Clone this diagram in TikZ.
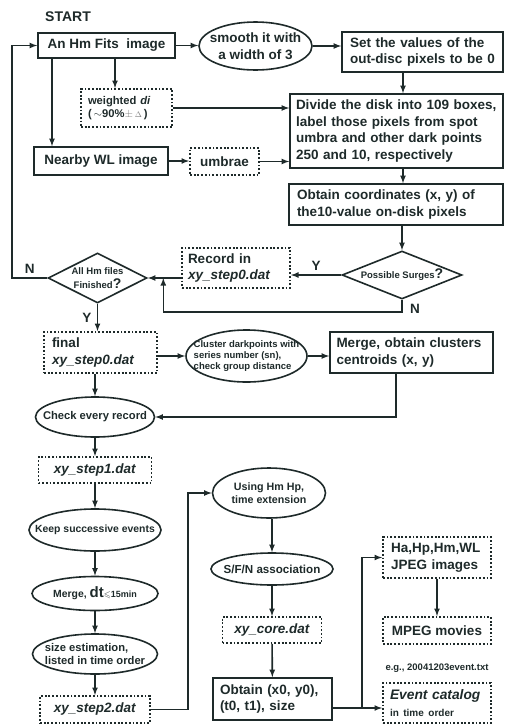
\documentclass[tikz,border=0pt]{standalone}
\usepackage{fontspec}
\usepackage{amssymb}
\setmainfont{Liberation Sans}
\usetikzlibrary{shapes.geometric, arrows, positioning}
\definecolor{ink}{RGB}{30,42,42}
\newcommand\fmain{\fontsize{13.5}{16.7}\selectfont\bfseries}
\newcommand\fmid{\fontsize{11.2}{13}\selectfont\bfseries}
\newcommand\ftiny{\fontsize{9.5}{11}\selectfont\bfseries}
\newcommand\qmark{{\fontsize{14}{14}\selectfont ?}}
\tikzstyle{arrow} = [line width=1.6pt,->,>=latex,draw=ink]
\tikzstyle{process} = [rectangle, draw=ink, line width=1.6pt, inner sep=0pt, font=\fmain]
\tikzstyle{datafile} = [rectangle, draw=ink, line width=1.8pt, dash pattern=on 1.8pt off 1.9pt, inner sep=0pt, font=\fmain]
\tikzstyle{oval} = [ellipse, draw=ink, line width=1.6pt, inner xsep=-30pt, inner ysep=-12pt, align=center, font=\fmid]
\tikzstyle{decision} = [diamond, draw=ink, line width=1.6pt, inner sep=-12pt, aspect=2.4, align=center, font=\ftiny]
\tikzset{
	leftbox/.style 2 args = {align=left, text width=#1, inner xsep=#2},
	yn/.style = {font=\fmain, text=ink},
}

\begin{document}
\begin{tikzpicture}[x=1pt, y=-1pt, text=ink]
\useasboundingbox (0,0) rectangle (507,726);
% Placement of nodes
\node (start) at (68,17) [font=\fontsize{14}{14}\selectfont\bfseries] {START};
\node (hm) at (106.5,45.5) [process, minimum width=137pt, minimum height=25pt] {An Hm Fits\ \ image};
\node (smooth) at (255.5,46) [oval, font=\fmain, minimum width=113pt, minimum height=48pt] {smooth it with\\a width of 3};
\node (setzero) at (422.5,52) [process, leftbox={145pt}{8pt}, minimum height=40pt] {Set the values of the\\out-disc pixels to be 0};
\node (weighted) at (126.5,108) [datafile, font=\fmid, leftbox={77pt}{7pt}, minimum height=38pt] {weighted \textit{di}\\(\,$\sim$90\%{\color{gray}$\pm\,\scriptstyle\Delta$}\,)};
\node (divide) at (396.5,131) [process, leftbox={201pt}{6pt}, minimum height=74pt] {Divide the disk into 109 boxes,\\label those pixels from spot\\umbra and other dark points\\250 and 10, respectively};
\node (nearby) at (101,161) [process, minimum width=134pt, minimum height=28pt] {Nearby WL image};
\node (umbrae) at (224.5,161.5) [datafile, minimum width=69pt, minimum height=27pt] {umbrae};
\node (obtainxy) at (396,204.5) [process, leftbox={198pt}{8pt}, minimum height=41pt] {Obtain coordinates (x, y) of\\the10-value on-disk pixels};

% decisions
\node (surge) at (402,275) [decision, minimum width=120pt, minimum height=48pt] {Possible Surges\qmark};
\node (record) at (236,268) [datafile, leftbox={96pt}{6pt}, minimum height=40pt] {Record in\\\textit{xy\_step0.dat}};
\node (allhm) at (97.5,278) [decision, minimum width=99pt, minimum height=50pt, font=\fontsize{9.5}{14}\selectfont\bfseries] {All Hm files\\Finished\qmark};
\coordinate (njoin) at ([xshift=15.5pt]allhm.east);

% clustering
\node (final) at (100.5,352.5) [datafile, leftbox={97pt}{8pt}, minimum height=41pt] {final\\\textit{xy\_step0.dat}};
\node (cluster) at (246.5,356) [oval, font=\ftiny, align=left, minimum width=121pt, minimum height=52pt] {Cluster darkpoints with\\series number (sn),\\check group distance};
\node (mergec) at (411.5,352.5) [process, leftbox={150pt}{6.5pt}, minimum height=41pt] {Merge, obtain clusters\\centroids (x, y)};

% left column
\node (check) at (95,417) [oval, minimum width=119pt, minimum height=40pt] {Check every record};
\node (step1) at (95,470) [datafile, minimum width=113pt, minimum height=26pt] {\textit{xy\_step1.dat}};
\node (keep) at (95,530) [oval, font=\fontsize{10.4}{12}\selectfont\bfseries, minimum width=132pt, minimum height=42pt] {Keep successive events};
\node (mergedt) at (95,593.5) [oval, font=\fontsize{10.4}{12}\selectfont\bfseries, minimum width=126pt, minimum height=34pt] {Merge, {\fontsize{15}{15}\selectfont dt}{\fontsize{9}{9}\selectfont$\leqslant$15min}};
\node (sizeest) at (95,654) [oval, font=\fmid, align=left, minimum width=125pt, minimum height=40pt] {size estimation,\\listed in time order};
\node (step2) at (95,709.5) [datafile, minimum width=110pt, minimum height=27pt] {\textit{xy\_step2.dat}};

% middle column
\node (using) at (269,493) [oval, font=\fontsize{10.7}{13}\selectfont\bfseries, minimum width=113pt, minimum height=50pt] {Using Hm Hp,\\time extension};
\node (sfn) at (272,569) [oval, font=\fontsize{11.6}{13}\selectfont\bfseries, minimum width=122pt, minimum height=32pt] {S/F/N association};
\node (core) at (272,630) [datafile, minimum width=99pt, minimum height=26pt] {\textit{xy\_core.dat}};
\node (obtainx0) at (272.5,699) [process, leftbox={105pt}{7pt}, minimum height=42pt] {Obtain (x0, y0),\\(t0, t1), size};

% right column
\node (hajpeg) at (437,557.5) [datafile, leftbox={92pt}{8pt}, minimum height=41pt] {Ha,Hp,Hm,WL\\JPEG images};
\node (mpeg) at (437,630.5) [datafile, minimum width=108pt, minimum height=27pt] {MPEG movies};
\node (catalog) at (437,703) [datafile, leftbox={94pt}{7pt}, minimum height=40pt] {{\fontsize{13.8}{16}\selectfont\itshape Event catalog}\\{\fontsize{10}{12}\selectfont in time order}};
\node (eg) [above=6pt of catalog, font=\fontsize{9.5}{11}\selectfont\bfseries] {e.g., 20041203event.txt};
\coordinate (fork) at (362,708);

% Placement of edges
\draw [arrow] (hm.east) -- (hm.east -| smooth.west);
\draw [arrow] (smooth.east) -- (smooth.east -| setzero.west);
\draw [arrow] ([xshift=-19.5pt]setzero.south) -- ([xshift=-19.5pt]setzero.south |- divide.north);
\draw [arrow] ([xshift=8.5pt]hm.south) -- ([xshift=8.5pt]hm.south |- weighted.north);
\draw [arrow] ([xshift=-54.5pt]hm.south) -- ([xshift=-54.5pt]hm.south |- nearby.north);
\draw [arrow] (weighted.east) -- (weighted.east -| divide.west);
\draw [arrow] (nearby.east) -- (nearby.east -| umbrae.west);
\draw [arrow] (umbrae.east) -- (umbrae.east -| divide.west);
\draw [arrow] ([xshift=6.5pt]divide.south) -- ([xshift=6.5pt]divide.south |- obtainxy.north);
\draw [arrow] (surge.north |- obtainxy.south) -- (surge.north);

% surges yes / no
\draw [arrow] (surge.west) -- node[yn, above] {Y} (surge.west -| record.east);
\draw [arrow] (allhm.east -| record.west) -- (allhm.east);
\draw [arrow] (surge.south) -- ++(0,12) node[yn, anchor=west, xshift=4pt, yshift=3pt] {N} -| (njoin);

% all files finished?
\draw [arrow] (allhm.west) -- node[yn, above] {N} ++(-35,0) |- (hm.west);
\draw [arrow] (allhm.south) -- node[yn, left, xshift=-2pt] {Y} (allhm.south |- final.north);

\draw [arrow] (cluster.west -| final.east) -- (cluster.west);
\draw [arrow] (cluster.east) -- (cluster.east -| mergec.west);
\draw [arrow] ([xshift=-15.5pt]mergec.south) |- (check.east);
\draw [arrow] (check.north |- final.south) -- (check.north);

\draw [arrow] (check) -- (step1);
\draw [arrow] (step1) -- (keep);
\draw [arrow] (keep) -- (mergedt);
\draw [arrow] (mergedt) -- (sizeest);
\draw [arrow] (sizeest) -- (step2);

\draw [arrow] (step2.east) -- ++(37,0) |- (using.west);
\draw [arrow] (sfn.north |- using.south) -- (sfn.north);
\draw [arrow] (sfn) -- (core);
\draw [arrow] (core) -- (obtainx0);

% outputs
\draw [arrow] (obtainx0.east |- fork) -- (fork -| catalog.west);
\draw [arrow] (fork) |- (hajpeg.west);
\draw [arrow] (hajpeg) -- (mpeg);

\end{tikzpicture}
\end{document}
